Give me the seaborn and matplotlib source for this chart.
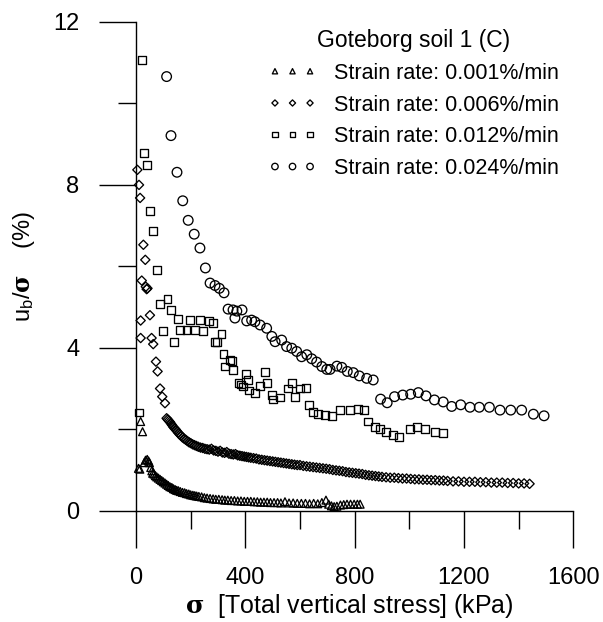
import matplotlib
matplotlib.use("Agg")
import matplotlib.pyplot as plt
import seaborn as sns
from matplotlib.ticker import MultipleLocator

# ---------------- data ----------------
legend_title = "Goteborg soil 1 (C)"
labels = ["Strain rate: 0.001%/min", "Strain rate: 0.006%/min",
          "Strain rate: 0.012%/min", "Strain rate: 0.024%/min"]

tri_x = [9, 14, 17, 24, 30, 35, 41, 46, 49, 54, 58, 61, 66, 71, 76, 82, 88, 94, 100, 106,
         112, 118, 124, 131, 137, 143, 149, 155, 162, 170, 178, 185, 193, 200, 208, 215, 222,
         230, 240, 250, 260, 271, 282, 292, 303, 315, 325, 336, 348, 360, 372, 384, 396, 408,
         420, 432, 444, 456, 468, 480, 492, 505, 518, 530, 545, 560, 575, 590, 605, 620, 635,
         650, 665, 680, 695, 705, 715, 725, 735, 748, 760, 772, 785, 798, 810, 820]
tri_y = [1.04, 1.02, 2.19, 1.94, 1.18, 1.24, 1.26, 1.22, 1.18, 1.06, 0.98, 0.92, 0.90, 0.86,
         0.83, 0.80, 0.77, 0.74, 0.71, 0.68, 0.65, 0.62, 0.59, 0.57, 0.54, 0.52, 0.50, 0.49,
         0.47, 0.45, 0.44, 0.42, 0.41, 0.39, 0.38, 0.37, 0.36, 0.35, 0.34, 0.32, 0.31, 0.30,
         0.29, 0.28, 0.28, 0.27, 0.26, 0.26, 0.25, 0.25, 0.24, 0.24, 0.23, 0.23, 0.23, 0.22,
         0.22, 0.21, 0.21, 0.21, 0.20, 0.20, 0.20, 0.19, 0.22, 0.19, 0.19, 0.18, 0.18, 0.18,
         0.17, 0.18, 0.17, 0.20, 0.26, 0.16, 0.12, 0.10, 0.11, 0.14, 0.15, 0.16, 0.16, 0.16,
         0.16, 0.16]

dia_x = [5, 11, 15, 27, 34, 21, 36, 39, 42, 17, 51, 17, 57, 63, 73, 79, 88, 96, 106,
         112, 116, 120, 124, 128, 132, 136, 141, 146, 150, 155, 160, 165, 170, 176, 182, 188,
         194, 200, 207, 214, 221, 228, 236, 244, 252, 260, 268, 276, 284, 292, 300, 308, 316,
         324, 332, 340, 348, 356, 364, 372, 380, 388, 396, 404, 412, 420, 430, 440, 450, 460,
         470, 480, 490, 500, 510, 520, 530, 540, 550, 560, 570, 580, 590, 600, 612, 624, 636,
         648, 660, 672, 684, 696, 708, 720, 732, 744, 756, 768, 780, 792, 804, 816, 828, 840,
         852, 864, 876, 888, 900, 915, 930, 945, 960, 975, 990, 1005, 1020, 1035, 1050, 1065,
         1080, 1095, 1110, 1125, 1140, 1160, 1180, 1200, 1220, 1240, 1260, 1280, 1300, 1320,
         1340, 1360, 1380, 1400, 1420, 1440]
dia_y = [8.37, 8.00, 7.68, 6.53, 6.16, 5.65, 5.50, 5.44, 5.46, 4.67, 4.80, 4.24, 4.24, 4.09,
         3.66, 3.42, 3.00, 2.80, 2.64,
         2.27, 2.24, 2.21, 2.18, 2.14, 2.10, 2.06, 2.02, 1.99, 1.95, 1.91, 1.87, 1.84, 1.80,
         1.77, 1.74, 1.71, 1.68, 1.66, 1.63, 1.61, 1.59, 1.57, 1.55, 1.54, 1.52, 1.51, 1.50,
         1.52, 1.48, 1.47, 1.45, 1.47, 1.43, 1.42, 1.44, 1.40, 1.39, 1.38, 1.39, 1.36, 1.35,
         1.34, 1.33, 1.32, 1.31, 1.30, 1.29, 1.28, 1.26, 1.25, 1.24, 1.23, 1.22, 1.21, 1.20,
         1.19, 1.18, 1.17, 1.16, 1.15, 1.14, 1.13, 1.12, 1.12, 1.10, 1.09, 1.08, 1.07, 1.06,
         1.05, 1.04, 1.03, 1.02, 1.00, 0.99, 0.98, 0.97, 0.95, 0.94, 0.93, 0.92, 0.91, 0.90,
         0.88, 0.87, 0.86, 0.85, 0.84, 0.83, 0.82, 0.81, 0.81, 0.80, 0.79, 0.79, 0.78, 0.77,
         0.77, 0.76, 0.76, 0.75, 0.75, 0.74, 0.74, 0.73, 0.72, 0.72, 0.71, 0.71, 0.71, 0.70,
         0.70, 0.69, 0.69, 0.69, 0.68, 0.68, 0.67, 0.67, 0.66]

sq_x = [22, 29, 39, 51, 63, 78, 12, 88, 115, 128, 98, 139, 155, 198, 234, 268, 161, 185,
        216, 246, 281, 313, 295, 289, 320, 344, 350, 326, 356, 375, 385, 401, 411, 392, 414,
        435, 454, 472, 478, 497, 500, 527, 570, 556, 600, 622, 582, 634, 648, 666, 692, 716,
        746, 783, 813, 834, 850, 875, 893, 915, 941, 963, 1002, 1029, 1057, 1094, 1122]
sq_y = [11.07, 8.78, 8.49, 7.36, 6.86, 5.91, 2.41, 5.08, 5.20, 4.93, 4.42, 4.14, 4.70, 4.68,
        4.68, 4.66, 4.44, 4.44, 4.44, 4.42, 4.60, 4.34, 4.15, 4.15, 3.85, 3.70, 3.68, 3.54,
        3.46, 3.14, 3.10, 3.36, 3.21, 3.05, 2.95, 2.90, 3.06, 3.41, 3.13, 2.85, 2.73, 2.78,
        3.13, 3.00, 3.00, 3.02, 2.80, 2.60, 2.42, 2.38, 2.36, 2.33, 2.48, 2.48, 2.50, 2.48,
        2.19, 2.05, 2.00, 1.93, 1.86, 1.80, 2.00, 2.05, 2.00, 1.93, 1.90]

cir_x = [112, 128, 150, 171, 191, 213, 234, 254, 271, 289, 305, 322, 337, 355, 369, 388, 362,
         405, 423, 435, 454, 478, 497, 509, 533, 551, 570, 588, 606, 625, 643, 661, 680, 698,
         710, 735, 753, 773, 795, 817, 844, 868, 895, 919, 946, 976, 1005, 1033, 1061, 1092,
         1124, 1155, 1188, 1222, 1256, 1293, 1332, 1371, 1411, 1454, 1493]
cir_y = [10.66, 9.21, 8.31, 7.61, 7.13, 6.79, 6.45, 5.96, 5.59, 5.53, 5.46, 5.35, 4.95, 4.93,
         4.90, 4.93, 4.73, 4.66, 4.68, 4.64, 4.56, 4.48, 4.28, 4.15, 4.19, 4.03, 3.99, 3.91,
         3.78, 3.83, 3.73, 3.65, 3.54, 3.47, 3.47, 3.55, 3.52, 3.42, 3.39, 3.31, 3.25, 3.21,
         2.74, 2.65, 2.80, 2.84, 2.86, 2.90, 2.82, 2.72, 2.67, 2.56, 2.60, 2.54, 2.54, 2.54,
         2.47, 2.47, 2.47, 2.37, 2.33]

x_ticks = [0, 400, 800, 1200, 1600]
y_ticks = [0, 4, 8, 12]

# ---------------- style ----------------
sns.set_theme(style="white")
plt.rcParams['font.family'] = ['Liberation Sans', 'DejaVu Sans']
plt.rcParams['text.color'] = 'black'
plt.rcParams['axes.labelcolor'] = 'black'
plt.rcParams['xtick.color'] = 'black'
plt.rcParams['ytick.color'] = 'black'
plt.rcParams['mathtext.fontset'] = 'custom'
plt.rcParams['mathtext.rm'] = 'Liberation Sans'
plt.rcParams['mathtext.it'] = 'Liberation Sans:italic'
plt.rcParams['mathtext.bf'] = 'DejaVu Serif:bold'

fig = plt.figure(figsize=(6.03, 6.22), dpi=100)
ax = fig.add_axes([136 / 603, 1 - 510.7 / 622, (573.3 - 136) / 603, (510.7 - 22) / 622])

series = [
    (labels[0], tri_x, tri_y, "^", 32),
    (labels[1], dia_x, dia_y, "D", 22),
    (labels[2], sq_x, sq_y, "s", 32),
    (labels[3], cir_x, cir_y, "o", 48),
]
for lab, xs, ys, mk, sz in series:
    sns.scatterplot(x=xs, y=ys, marker=mk, s=sz, color="black", facecolor="none",
                    edgecolor="black", linewidth=0.95, label=lab, ax=ax, clip_on=False,
                    zorder=3)

ax.set_xlim(0, 1600)
ax.set_ylim(0, 12)
ax.set_xticks(x_ticks)
ax.set_yticks(y_ticks)
ax.xaxis.set_minor_locator(MultipleLocator(200))
ax.yaxis.set_minor_locator(MultipleLocator(2))
ax.tick_params(which="both", bottom=True, left=True, direction="out", colors="black",
               width=1.0)
ax.tick_params(which="major", length=26.6, pad=14, labelsize=17)
ax.tick_params(which="minor", length=13.3)

for side in ["top", "right"]:
    ax.spines[side].set_visible(False)
for side in ["left", "bottom"]:
    ax.spines[side].set_color("black")
    ax.spines[side].set_linewidth(1.0)

ax.set_xlabel(r"$\mathbf{\sigma}$  [Total vertical stress] (kPa)", fontsize=18,
              color="black")
ax.xaxis.set_label_coords(0.488, -0.166)
ax.set_ylabel(r"u$_\mathrm{b}$/$\mathbf{\sigma}$    (%)", fontsize=17, labelpad=12,
              color="black")

leg = ax.legend(loc="upper left", bbox_to_anchor=(268.5 / 603, 1 - 29 / 622),
                bbox_transform=fig.transFigure, frameon=False, scatterpoints=3,
                scatteryoffsets=[0.5], markerscale=0.67, handlelength=2.23,
                handletextpad=0.81, labelspacing=0.5, borderpad=0, borderaxespad=0,
                title=legend_title, fontsize=15.5, title_fontsize=16.5)
for t in leg.get_texts():
    t.set_color("black")
leg.get_title().set_color("black")

fig.savefig("out.png", dpi=100)
